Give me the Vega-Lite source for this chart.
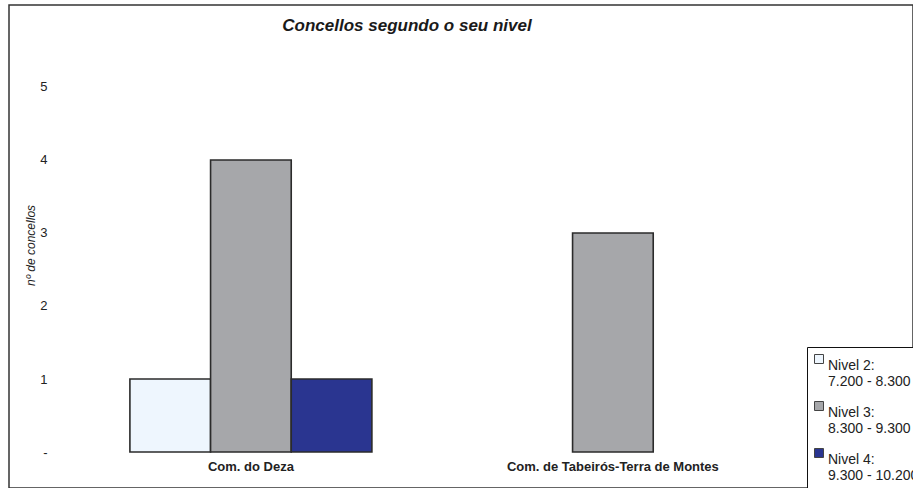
{
  "$schema": "https://vega.github.io/schema/vega-lite/v6.json",
  "width": 904,
  "height": 483,
  "autosize": "none",
  "padding": {"left": 9, "top": 5, "right": 0, "bottom": 0},
  "background": "white",
  "title": {
    "text": "Concellos segundo o seu nivel",
    "font": "Liberation Sans",
    "fontSize": 17,
    "fontWeight": "bold",
    "fontStyle": "italic",
    "color": "#1a1a1a",
    "anchor": "middle",
    "baseline": "alphabetic",
    "offset": -43,
    "dx": -54
  },
  "data": {
    "values": [
      {"comarca": "Com. do Deza", "nivel": "Nivel 2:\n7.200 - 8.300", "concellos": 1},
      {"comarca": "Com. do Deza", "nivel": "Nivel 3:\n8.300 - 9.300", "concellos": 4},
      {"comarca": "Com. do Deza", "nivel": "Nivel 4:\n9.300 - 10.200", "concellos": 1},
      {"comarca": "Com. de Tabeirós-Terra de Montes", "nivel": "Nivel 3:\n8.300 - 9.300", "concellos": 3}
    ]
  },
  "mark": {"type": "bar", "stroke": "#2b2b2b", "strokeWidth": 1.6},
  "encoding": {
    "x": {
      "field": "comarca",
      "type": "nominal",
      "sort": ["Com. do Deza", "Com. de Tabeirós-Terra de Montes"],
      "scale": {"paddingInner": 0.3315, "paddingOuter": 0.4144, "align": 0.403},
      "axis": {
        "title": null,
        "orient": "bottom",
        "offset": -29,
        "domain": false,
        "ticks": false,
        "labelPadding": 1,
        "labelAngle": 0,
        "labelLimit": 500,
        "labelFont": "Liberation Sans",
        "labelFontSize": 13,
        "labelFontWeight": "bold",
        "labelColor": "#222222"
      }
    },
    "xOffset": {
      "field": "nivel",
      "type": "nominal",
      "scale": {
        "domain": ["Nivel 2:\n7.200 - 8.300", "Nivel 3:\n8.300 - 9.300", "Nivel 4:\n9.300 - 10.200"],
        "paddingInner": 0,
        "paddingOuter": 0
      }
    },
    "y": {
      "field": "concellos",
      "type": "quantitative",
      "stack": null,
      "scale": {"domain": [-0.493, 6.123], "nice": false, "zero": false},
      "axis": {
        "title": "nº de concellos",
        "values": [0, 1, 2, 3, 4, 5],
        "labelExpr": "datum.value == 0 ? '-' : datum.label",
        "offset": -40,
        "domain": false,
        "ticks": false,
        "grid": false,
        "labelPadding": 2,
        "labelFont": "Liberation Sans",
        "labelFontSize": 13,
        "labelColor": "#222222",
        "titleFont": "Liberation Sans",
        "titleFontSize": 12,
        "titleFontWeight": "normal",
        "titleFontStyle": "italic",
        "titleColor": "#222222",
        "titleX": -15,
        "titleY": 240,
        "titleAngle": 270,
        "titleBaseline": "alphabetic",
        "titleAlign": "center"
      }
    },
    "color": {
      "field": "nivel",
      "type": "nominal",
      "scale": {
        "domain": ["Nivel 2:\n7.200 - 8.300", "Nivel 3:\n8.300 - 9.300", "Nivel 4:\n9.300 - 10.200"],
        "range": ["#eef6fe", "#a6a7aa", "#2a3590"]
      },
      "legend": {
        "title": null,
        "orient": "none",
        "legendX": 798,
        "legendY": 342,
        "labelExpr": "split(datum.label, '\\n')",
        "labelFont": "Liberation Sans",
        "labelFontSize": 14,
        "labelColor": "#222222",
        "labelLimit": 200,
        "labelBaseline": "top",
        "labelOffset": 2,
        "symbolType": "square",
        "symbolSize": 81,
        "symbolStrokeColor": "#444444",
        "symbolStrokeWidth": 1,
        "rowPadding": 10,
        "padding": 5,
        "strokeColor": "#111111",
        "fillColor": "white",
        "offset": 0
      }
    }
  },
  "config": {
    "view": {"stroke": "#333333", "strokeWidth": 1.5},
    "legend": {"strokeWidth": 1}
  }
}
